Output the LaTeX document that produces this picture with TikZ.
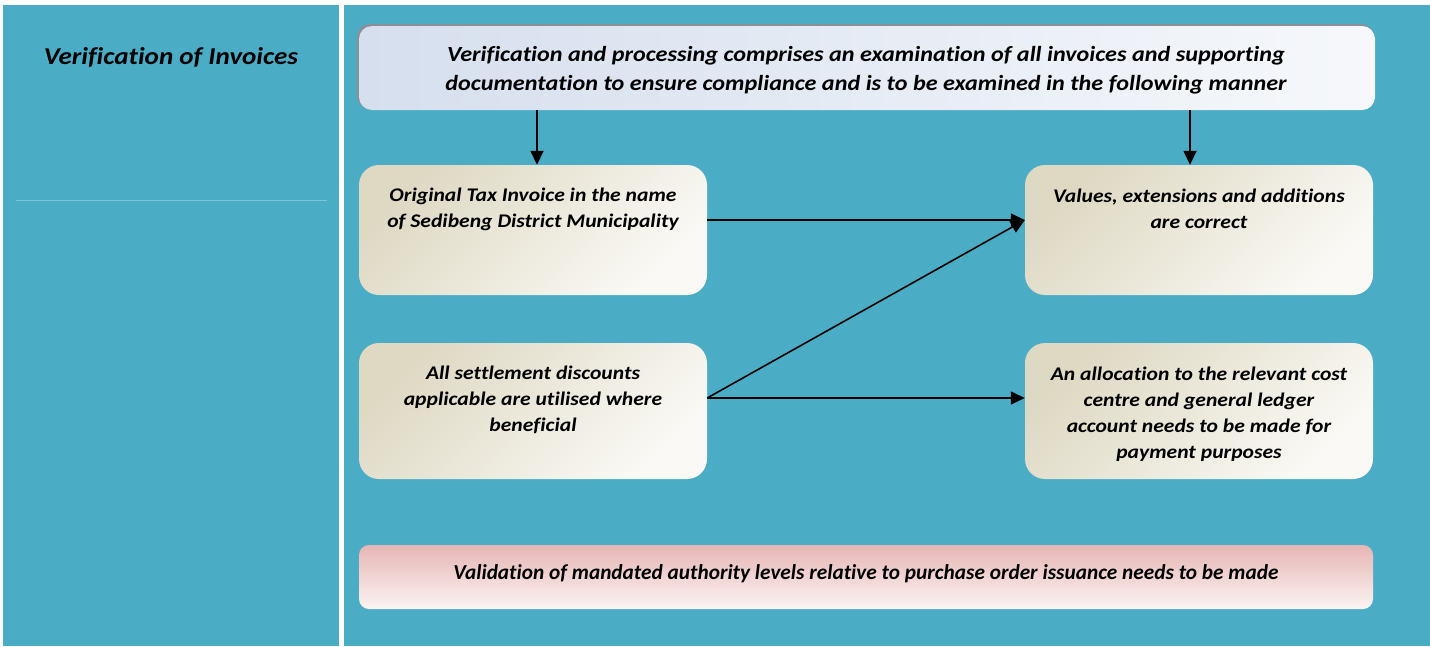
\documentclass[tikz,border=0pt]{standalone}
\usepackage{fontspec}
\setmainfont{Carlito}[Ligatures=NoCommon]
\newfontfamily\widefont{Carlito}[FakeStretch=1.12, Ligatures=NoCommon]
\usetikzlibrary{arrows.meta,calc}
\definecolor{teal}{HTML}{4BACC6}
\definecolor{tealline}{HTML}{7FC4D7}
\definecolor{blueA}{HTML}{D6DFEE}
\definecolor{blueB}{HTML}{F6F8FB}
\definecolor{tanA}{HTML}{DED9C3}
\definecolor{tanB}{HTML}{FAF9F5}
\definecolor{pinkA}{HTML}{E5B6B5}
\definecolor{pinkB}{HTML}{FCF4F3}
\definecolor{shadowgray}{HTML}{8C9096}
\tikzset{
  panel/.style={fill=teal, draw=none},
  tanbox/.style={draw=none, rounded corners=20pt, top color=tanA, bottom color=tanB, shading angle=45, minimum width=348pt, inner sep=0pt},
  txt/.style={align=center, font=\widefont\fontsize{19.3}{26}\selectfont\bfseries\itshape, inner sep=0pt},
  arr/.style={line width=1.6pt, -{Triangle[length=14pt,width=13pt]}},
}
\begin{document}
\begin{tikzpicture}[x=1pt,y=-1pt]
\useasboundingbox[fill=white] (0,0) rectangle (1430,646);
% panels
\fill[panel] (3,5) rectangle (339,646);
\fill[panel] (344,5) rectangle (1430,646);
\draw[tealline, line width=1pt] (16,200) -- (327,200);
\node[font=\widefont\fontsize{24.2}{30}\selectfont\bfseries\itshape, inner sep=0pt] (title) at (171,57) {Verification of Invoices};
% top box
\fill[shadowgray, rounded corners=13pt] (357,24) rectangle (1374,109);
\node[draw=none, rounded corners=13pt, left color=blueA, right color=blueB, minimum width=1016pt, minimum height=84pt, inner sep=0pt] (top) at (867,68) {};
\node[txt, font=\widefont\fontsize{21.6}{29}\selectfont\bfseries\itshape] (toptxt) at (866,70.5) {Verification and processing comprises an examination of all invoices and supporting\\documentation to ensure compliance and is to be examined in the following manner};
% boxes
\node[tanbox, minimum height=130pt] (b1) at (533,230) {};
\node[txt] (b1t) at (533,209) {Original Tax Invoice in the name\\of Sedibeng District Municipality};
\node[tanbox, minimum height=130pt] (b2) at (1199,230) {};
\node[txt] (b2t) at (1199,209) {Values, extensions and additions\\are correct};
\node[tanbox, minimum height=136pt] (b3) at (533,411) {};
\node[txt] (b3t) at (533,400) {All settlement discounts\\applicable are utilised where\\beneficial};
\node[tanbox, minimum height=136pt] (b4) at (1199,411) {};
\node[txt] (b4t) at (1199,414) {An allocation to the relevant cost\\centre and general ledger\\account needs to be made for\\payment purposes};
% bottom box
\node[draw=none, rounded corners=10pt, top color=pinkA, bottom color=pinkB, minimum width=1014pt, minimum height=64pt, inner sep=0pt] (b5) at (866,577) {};
\node[align=center, inner sep=0pt, font=\fontsize{21.3}{24}\selectfont\bfseries\itshape] (b5t) at (866,574) {Validation of mandated authority levels relative to purchase order issuance needs to be made};
% arrows
\draw[arr] ([xshift=-330pt]top.south) -- ([xshift=4pt]b1.north);
\draw[arr] ([xshift=323pt]top.south) -- ([xshift=-9pt]b2.north);
\draw[arr] ([yshift=10pt]b1.east) -- ([yshift=10pt]b2.west);
\draw[arr] ([yshift=13pt]b3.east) -- ([yshift=10pt]b2.west);
\draw[arr] ([yshift=13pt]b3.east) -- ([yshift=13pt]b4.west);
\end{tikzpicture}
\end{document}
